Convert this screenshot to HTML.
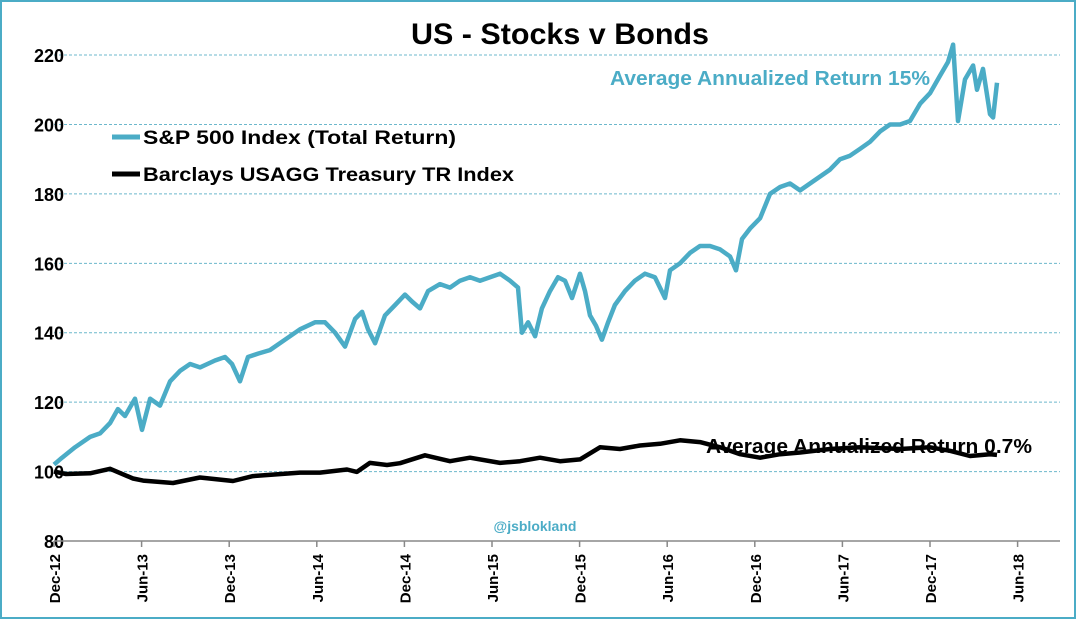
<!DOCTYPE html>
<html><head><meta charset="utf-8"><style>
html,body{margin:0;padding:0;background:#fff}
svg{display:block}
text{font-family:"Liberation Sans",sans-serif}
</style></head><body>
<svg id="chart" width="1076" height="619" viewBox="0 0 1076 619">
<rect x="1" y="1" width="1074" height="617" fill="#fff" stroke="#4bacc6" stroke-width="2"/>
<text x="560" y="44" text-anchor="middle" font-size="30" font-weight="bold" textLength="298" lengthAdjust="spacingAndGlyphs">US - Stocks v Bonds</text>
<g id="grid"></g>
<g id="yaxis"></g>
<g id="xaxis"></g>
<g id="series"></g>
<g>
<line x1="112" y1="137" x2="140" y2="137" stroke="#4bacc6" stroke-width="5"/>
<text x="143" y="144" font-size="19" font-weight="bold" textLength="313" lengthAdjust="spacingAndGlyphs">S&amp;P 500 Index (Total Return)</text>
<line x1="112" y1="174" x2="140" y2="174" stroke="#000" stroke-width="5"/>
<text x="143" y="181" font-size="19" font-weight="bold" textLength="371" lengthAdjust="spacingAndGlyphs">Barclays USAGG Treasury TR Index</text>
</g>
<text x="610" y="85" font-size="20" font-weight="bold" fill="#4bacc6" textLength="320" lengthAdjust="spacingAndGlyphs">Average Annualized Return 15%</text>
<text x="706" y="453" font-size="20" font-weight="bold" fill="#000" textLength="326" lengthAdjust="spacingAndGlyphs">Average Annualized Return 0.7%</text>
<text x="535" y="531" text-anchor="middle" font-size="14" font-weight="bold" fill="#4bacc6">@jsblokland</text>
</svg>
<script>
var NS="http://www.w3.org/2000/svg";
var yTicks=[80,100,120,140,160,180,200,220];
var xTickLabels=["Dec-12","Jun-13","Dec-13","Jun-14","Dec-14","Jun-15","Dec-15","Jun-16","Dec-16","Jun-17","Dec-17","Jun-18"];
// months since Dec-12
var spMonths=[0,0.55,1.44,2.47,3.15,3.84,4.38,4.86,5.55,6.03,6.58,7.26,7.95,8.63,9.32,10,11.03,11.71,12.19,12.74,13.29,13.97,14.79,15.82,16.85,17.88,18.56,19.25,19.93,20.62,21.1,21.51,21.99,22.67,23.36,24.04,24.52,25.07,25.62,26.44,27.12,27.81,28.49,29.18,29.86,30.55,31.23,31.78,32.05,32.47,32.95,33.42,33.97,34.52,35,35.48,36.03,36.37,36.71,37.12,37.53,37.95,38.42,39.11,39.79,40.48,41.16,41.85,42.19,42.88,43.56,44.25,44.93,45.62,46.3,46.71,47.12,47.67,48.36,49.04,49.73,50.41,51.1,51.78,52.47,53.15,53.84,54.52,55.21,55.89,56.58,57.26,57.95,58.63,59.32,60,60.68,61.23,61.58,61.92,62.4,62.95,63.22,63.63,64.11,64.32,64.59];
var spValues=[102,104,107,110,111,114,118,116,121,112,121,119,126,129,131,130,132,133,131,126,133,134,135,138,141,143,143,140,136,144,146,141,137,145,148,151,149,147,152,154,153,155,156,155,156,157,155,153,140,143,139,147,152,156,155,150,157,152,145,142,138,143,148,152,155,157,156,150,158,160,163,165,165,164,162,158,167,170,173,180,182,183,181,183,185,187,190,191,193,195,198,200,200,201,206,209,214,218,223,201,213,217,210,216,203,202,212];
var bdMonths=[0,0.82,2.47,3.84,5.41,6.1,8.15,9.99,12.26,13.63,16.85,18.22,20.07,20.75,21.64,22.81,23.7,25.41,27.12,28.49,30.55,31.92,33.29,34.66,36.03,37.4,38.77,40.14,41.51,42.88,44.25,45.62,46.99,48.36,49.73,51.1,53.15,55.21,57.95,60,61.37,62.74,64.11,64.59];
var bdValues=[100,99.3,99.5,100.8,98,97.4,96.7,98.3,97.3,98.7,99.7,99.7,100.6,99.9,102.5,101.9,102.4,104.7,103,104,102.5,103,104,103,103.5,107,106.5,107.5,108,109,108.5,107,105,104,105,105.5,106.5,107,106.5,107,106,104.5,105,104.8];

var x0=54,pxPerMonth=14.6,y80=541,pxPerUnit=3.471;
function xs(m){return x0+m*pxPerMonth;}
function ys(v){return y80-(v-80)*pxPerUnit;}
var grid=document.getElementById('grid'),yaxis=document.getElementById('yaxis'),xaxis=document.getElementById('xaxis'),series=document.getElementById('series');
function mk(tag,attrs,parent){var e=document.createElementNS(NS,tag);for(var k in attrs)e.setAttribute(k,attrs[k]);parent.appendChild(e);return e;}
yTicks.forEach(function(v){
  if(v>80){
    var g=mk('line',{x1:54,x2:1060,y1:ys(v),y2:ys(v),stroke:'#6cb8cc','stroke-width':1,'stroke-dasharray':'3,2'},grid);
    
    
  }
  var t=mk('text',{x:64,y:ys(v)+7,'text-anchor':'end','font-size':18,'font-weight':'bold'},yaxis);
  t.textContent=v;
  
  
});
var ax=mk('line',{x1:54,x2:1060,y1:541,y2:541,stroke:'#888','stroke-width':1.5},xaxis);


xTickLabels.forEach(function(lab,i){
  var x=xs(i*6);
  var tk=mk('line',{x1:x,x2:x,y1:541,y2:547,stroke:'#888','stroke-width':1.5},xaxis);
  
  
  var t=mk('text',{x:0,y:0,'text-anchor':'end','font-size':15,'font-weight':'bold',transform:'translate('+(x+6)+',554) rotate(-90)'},xaxis);
  t.textContent=lab;
  
  
});
function pts(ms,vs){return ms.map(function(m,i){return xs(m).toFixed(1)+','+ys(vs[i]).toFixed(1);}).join(' ');}
var bl=mk('polyline',{points:pts(bdMonths,bdValues),fill:'none',stroke:'#000','stroke-width':4.5,'stroke-linejoin':'round'},series);


var sl=mk('polyline',{points:pts(spMonths,spValues),fill:'none',stroke:'#4bacc6','stroke-width':4.5,'stroke-linejoin':'round'},series);


</script>
</body></html>
